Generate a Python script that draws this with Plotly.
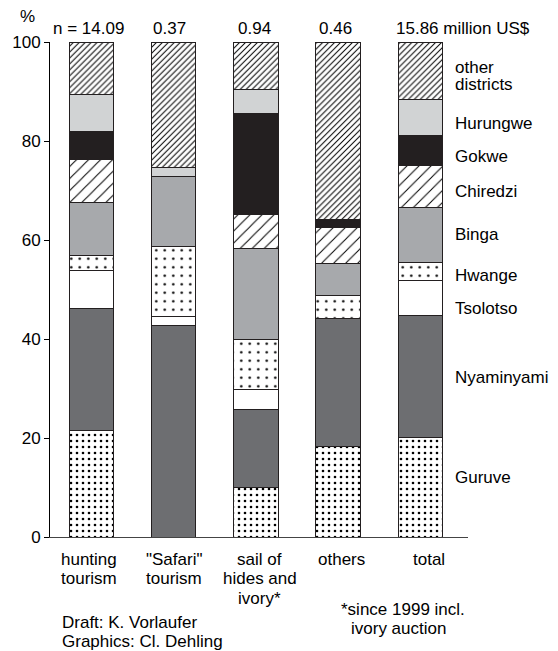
import plotly.graph_objects as go

categories = ["hunting tourism", '"Safari" tourism', "sail of hides and ivory*", "others", "total"]
totals = ["n = 14.09", "0.37", "0.94", "0.46", "15.86 million US$"]

# shares in % per district, bottom to top
guruve = [21.6, 0.0, 10.1, 18.2, 20.2]
nyaminyami = [24.5, 42.8, 15.7, 26.0, 24.5]
tsolotso = [7.7, 1.8, 4.0, 0.0, 7.2]
hwange = [3.0, 14.1, 10.0, 4.5, 3.6]
binga = [10.8, 14.1, 18.5, 6.6, 11.1]
chiredzi = [8.6, 0.0, 6.9, 7.2, 8.4]
gokwe = [5.7, 0.0, 20.4, 1.6, 6.2]
hurungwe = [7.4, 1.8, 4.9, 0.0, 7.1]
other_districts = [10.7, 25.4, 9.5, 35.9, 11.7]

W, H = 558, 651
L, R, T, B = 44, 90, 42, 114
FONT = "Arial, Liberation Sans, sans-serif"
INK = "#231f20"


def px_x(px):
  return (px - L) / (W - L - R)


def px_y(py):
  return (H - B - py) / (H - T - B)


def solid(c):
  return dict(color=c, line=dict(color=INK, width=1))


def pat(shape, size, solidity):
  return dict(color="white", line=dict(color=INK, width=1),
              pattern=dict(shape=shape, size=size, solidity=solidity,
                           fgcolor="black", bgcolor="white", fillmode="replace"))


series = [
    ("Guruve", guruve, pat(".", 6, 0.15)),
    ("Nyaminyami", nyaminyami, solid("#6d6e71")),
    ("Tsolotso", tsolotso, solid("white")),
    ("Hwange", hwange, pat(".", 8.5, 0.07)),
    ("Binga", binga, solid("#a7a9ac")),
    ("Chiredzi", chiredzi, pat("/", 8.5, 0.12)),
    ("Gokwe", gokwe, solid(INK)),
    ("Hurungwe", hurungwe, solid("#d1d3d4")),
    ("other districts", other_districts, pat("/", 4.2, 0.24)),
]

fig = go.Figure()
for name, vals, marker in series:
  fig.add_trace(go.Bar(x=categories, y=vals, name=name, marker=marker, width=0.54))

fig.update_layout(
    barmode="stack", showlegend=False, width=W, height=H,
    margin=dict(l=L, r=R, t=T, b=B),
    paper_bgcolor="white", plot_bgcolor="white",
    font=dict(family=FONT, size=17, color="black"),
)
fig.update_xaxes(range=[-0.504, 4.58], showticklabels=False, ticks="",
                 showline=True, linecolor="#444", linewidth=1, showgrid=False)
fig.update_yaxes(range=[0, 100], tickvals=[0, 20, 40, 60, 80, 100], ticks="outside",
                 ticklen=5, tickcolor="black", showline=True, linecolor="black", linewidth=1,
                 showgrid=False, zeroline=False,
                 tickfont=dict(family="Liberation Sans Narrow, Arial Narrow, Arial", size=17))

notes = []
# values above the bars
top_x = [83.5, 165.7, 251.7, 333.7, 462.5]
for t, x in zip(totals, top_x):
  notes.append((t, x, 28, "center"))
notes.append(("%", 21.5, 16, "center"))

# district labels at the right
side = [("other", 67), ("districts", 84), ("Hurungwe", 124), ("Gokwe", 156), ("Chiredzi", 192),
        ("Binga", 235), ("Hwange", 275), ("Tsolotso", 309), ("Nyaminyami", 378), ("Guruve", 477)]
for t, y in side:
  notes.append((t, 454, y, "left"))

# category labels below the bars
cat_lines = [
    (["hunting", "tourism"], 84),
    (['"Safari"', "tourism"], 170),
    (["sail of", "hides and", "ivory*"], 257),
    (["others"], 339.5),
    (["total"], 428.7),
]
for lines, x in cat_lines:
  for i, t in enumerate(lines):
    notes.append((t, x, 559 + 19.5 * i, "center"))

notes += [
    ("Draft: K. Vorlaufer", 55, 622, "left"),
    ("Graphics: Cl. Dehling", 55, 641, "left"),
    ("*since 1999 incl.", 402.5, 609, "center"),
    ("ivory auction", 397.5, 628, "center"),
]

for t, x, y, anchor in notes:
  fig.add_annotation(text=t, x=px_x(x), y=px_y(y), xref="paper", yref="paper",
                     xanchor=anchor, yanchor="middle", showarrow=False,
                     font=dict(size=17), borderpad=0)

fig.write_html("out.html", config={"displayModeBar": False},
               post_script="document.body.style.margin='0';")
